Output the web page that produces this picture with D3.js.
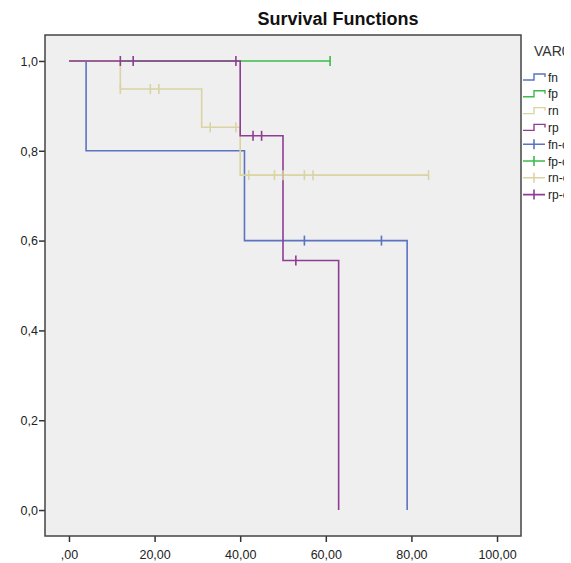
<!DOCTYPE html>
<html>
<head>
<meta charset="utf-8">
<script src="https://cdn.jsdelivr.net/npm/d3@7"></script>
<style>
  body { margin: 0; background: #fff; }
  text { font-family: Arial, "Liberation Sans", sans-serif; }
</style>
</head>
<body>
<svg width="571" height="563"></svg>
<script>
// survival steps (time, cumulative survival)
const groups = ['fn', 'fp', 'rn', 'rp'];
const colors = ['#5b73c1', '#3cbb4c', '#d9d4a2', '#8f3c93'];

const fnTime = [0, 4, 41, 79];
const fnSurv = [1, 0.8, 0.6, 0];
const fnCens = [55, 73];
const fnEnd = 79;

const fpTime = [0];
const fpSurv = [1];
const fpCens = [61];
const fpEnd = 61;

const rnTime = [0, 12, 31, 40];
const rnSurv = [1, 0.9375, 0.8523, 0.7457];
const rnCens = [12, 19, 21, 33, 39, 42, 48, 50, 55, 57, 84];
const rnEnd = 84;

const rpTime = [0, 40, 50, 63];
const rpSurv = [1, 0.8333, 0.5556, 0];
const rpCens = [12, 15, 39, 43, 45, 53];
const rpEnd = 63;

const xTicks = [0, 20, 40, 60, 80, 100];
const xTickLabels = [',00', '20,00', '40,00', '60,00', '80,00', '100,00'];
const yTicks = [0, 0.2, 0.4, 0.6, 0.8, 1.0];
const yTickLabels = ['0,0', '0,2', '0,4', '0,6', '0,8', '1,0'];

const series = [
  { name: 'fn', time: fnTime, surv: fnSurv, cens: fnCens, end: fnEnd },
  { name: 'fp', time: fpTime, surv: fpSurv, cens: fpCens, end: fpEnd },
  { name: 'rn', time: rnTime, surv: rnSurv, cens: rnCens, end: rnEnd },
  { name: 'rp', time: rpTime, surv: rpSurv, cens: rpCens, end: rpEnd }
];

const svg = d3.select('svg');
const plotLeft = 45, plotRight = 521, plotTop = 35, plotBottom = 536;

const x = d3.scaleLinear().domain([-5.6, 105.6]).range([plotLeft, plotRight]);
const y = d3.scaleLinear().domain([-0.0578, 1.0578]).range([plotBottom, plotTop]);

svg.append('text')
  .attr('x', 338)
  .attr('y', 25)
  .attr('text-anchor', 'middle')
  .attr('font-size', '18px')
  .attr('font-weight', 'bold')
  .attr('fill', '#111')
  .text('Survival Functions');

svg.append('rect')
  .attr('x', plotLeft)
  .attr('y', plotTop)
  .attr('width', plotRight - plotLeft)
  .attr('height', plotBottom - plotTop)
  .attr('fill', '#efefef');

// axes
const xAxis = svg.append('g')
  .attr('transform', `translate(0, ${plotBottom})`)
  .call(d3.axisBottom(x).tickValues(xTicks).tickSize(6).tickSizeOuter(0)
    .tickFormat((d, i) => xTickLabels[i]));
const yAxis = svg.append('g')
  .attr('transform', `translate(${plotLeft}, 0)`)
  .call(d3.axisLeft(y).tickValues(yTicks).tickSize(6).tickSizeOuter(0)
    .tickFormat((d, i) => yTickLabels[i]));

[xAxis, yAxis].forEach((a) => {
  a.select('.domain').remove();
  a.selectAll('line').attr('stroke', '#333').attr('stroke-width', 1.5);
  a.selectAll('text').attr('font-size', '12.5px').attr('fill', '#222')
    .attr('font-family', 'Arial, "Liberation Sans", sans-serif');
});
xAxis.selectAll('text').attr('dy', '1.15em');
yAxis.selectAll('text').attr('dy', '0.35em').attr('x', -7);

// plot lines
const line = d3.line()
  .x((d) => x(d[0]))
  .y((d) => y(d[1]))
  .curve(d3.curveStepAfter);

function survAt(s, t) {
  let v = s.surv[0];
  s.time.forEach((tt, i) => { if (tt <= t) v = s.surv[i]; });
  return v;
}

series.forEach((s, k) => {
  const pts = s.time.map((t, i) => [t, s.surv[i]]);
  if (s.end > s.time[s.time.length - 1]) pts.push([s.end, s.surv[s.surv.length - 1]]);
  svg.append('path')
    .attr('d', line(pts))
    .attr('fill', 'none')
    .attr('stroke', colors[k])
    .attr('stroke-width', 1.6);
});

series.forEach((s, k) => {
  svg.selectAll(`.cens-${s.name}`)
    .data(s.cens)
    .enter()
    .append('line')
    .attr('class', `cens-${s.name}`)
    .attr('x1', (d) => x(d))
    .attr('x2', (d) => x(d))
    .attr('y1', (d) => y(survAt(s, d)) - 5)
    .attr('y2', (d) => y(survAt(s, d)) + 5)
    .attr('stroke', colors[k])
    .attr('stroke-width', 1.6);
});

// frame
svg.append('rect')
  .attr('x', plotLeft)
  .attr('y', plotTop)
  .attr('width', plotRight - plotLeft)
  .attr('height', plotBottom - plotTop)
  .attr('fill', 'none')
  .attr('stroke', '#444')
  .attr('stroke-width', 1.5);

// legend (cut at the right edge like the original export)
svg.append('clipPath').attr('id', 'legclip')
  .append('rect').attr('x', 0).attr('y', 0).attr('width', 564).attr('height', 563);

const legend = svg.append('g').attr('clip-path', 'url(#legclip)');
legend.append('text')
  .attr('x', 534)
  .attr('y', 56)
  .attr('font-size', '14px')
  .attr('fill', '#333')
  .text('VAR00001');

const legendItems = groups.map((g, i) => ({ label: g, color: colors[i], cens: false }))
  .concat(groups.map((g, i) => ({ label: g + '-censored', color: colors[i], cens: true })));

legendItems.forEach((d, i) => {
  const ly = 77 + i * 16.8;
  if (d.cens) {
    legend.append('path')
      .attr('d', `M523,${ly}H545M534,${ly - 5}V${ly + 5}`)
      .attr('stroke', d.color).attr('stroke-width', 1.6).attr('fill', 'none');
  } else {
    legend.append('path')
      .attr('d', `M523,${ly + 3}H534V${ly - 3}H545V${ly}`)
      .attr('stroke', d.color).attr('stroke-width', 1.4).attr('fill', 'none');
  }
  legend.append('text')
    .attr('x', 548)
    .attr('y', ly + 4.5)
    .attr('font-size', '12px')
    .attr('fill', '#222')
    .text(d.label);
});
</script>
</body>
</html>
